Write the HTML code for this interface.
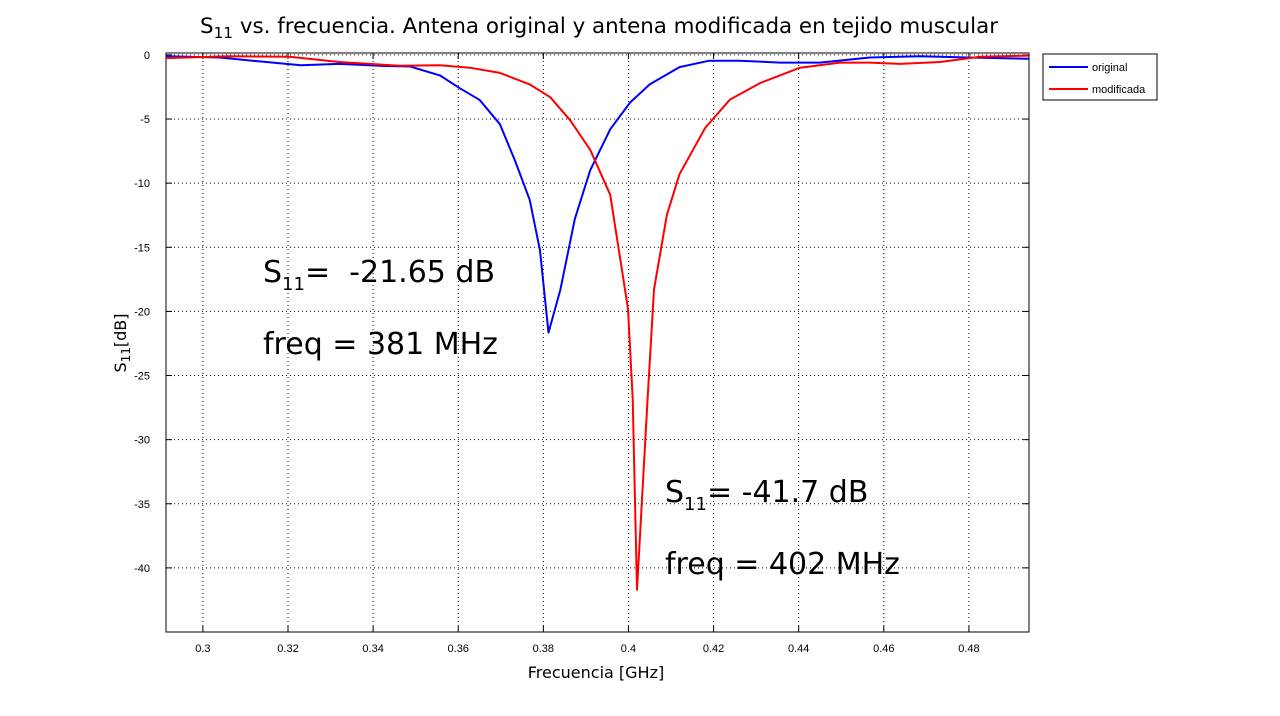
<!DOCTYPE html>
<html><head><meta charset="utf-8"><style>
body{margin:0;background:#fff;width:1280px;height:711px;overflow:hidden;font-family:"Liberation Sans",sans-serif}
</style></head><body>
<svg id="chart" width="1280" height="711" xmlns="http://www.w3.org/2000/svg" font-family="Liberation Sans, sans-serif">
<text x="599" y="33" font-size="21" text-anchor="middle" font-family="DejaVu Sans, sans-serif" textLength="798" lengthAdjust="spacingAndGlyphs">S<tspan font-size="15" dy="5">11</tspan><tspan dy="-5"> vs. frecuencia. Antena original y antena modificada en tejido muscular</tspan></text>
<g id="grid"></g>
<g id="ticks"></g>
<rect x="166" y="53" width="863" height="579" fill="none" stroke="#000" stroke-width="1"/>
<g id="series"></g>
<text x="596" y="678" font-size="16" text-anchor="middle" font-family="DejaVu Sans, sans-serif">Frecuencia [GHz]</text>
<text transform="translate(126,343) rotate(-90)" font-size="16" text-anchor="middle" font-family="DejaVu Sans, sans-serif">S<tspan font-size="12" dy="4">11</tspan><tspan dy="-4">[dB]</tspan></text>
<g font-family="DejaVu Sans, sans-serif" font-size="30">
<text x="263" y="282">S<tspan font-size="18" dy="8">11</tspan><tspan dy="-8" xml:space="preserve">=  -21.65 dB</tspan></text>
<text x="263" y="354">freq = 381 MHz</text>
<text x="665" y="502">S<tspan font-size="18" dy="8">11</tspan><tspan dy="-8">= -41.7 dB</tspan></text>
<text x="665" y="574">freq = 402 MHz</text>
</g>
<g>
<rect x="1043" y="54" width="114" height="46" fill="#fff" stroke="#000"/>
<line x1="1049" y1="67" x2="1088" y2="67" stroke="#00f" stroke-width="2"/>
<text x="1092" y="71" font-size="11">original</text>
<line x1="1049" y1="89" x2="1088" y2="89" stroke="#f00" stroke-width="2"/>
<text x="1092" y="93" font-size="11">modificada</text>
</g>
</svg>
<script>
const xTicks=[0.3,0.32,0.34,0.36,0.38,0.4,0.42,0.44,0.46,0.48];
const xTickLabels=["0.3","0.32","0.34","0.36","0.38","0.4","0.42","0.44","0.46","0.48"];
const yTicks=[0,-5,-10,-15,-20,-25,-30,-35,-40];
const yTickLabels=["0","-5","-10","-15","-20","-25","-30","-35","-40"];
const freqOriginal=[0.2913,0.304,0.313,0.323,0.332,0.3416,0.3487,0.3557,0.3604,0.365,0.3698,0.3733,0.3768,0.3792,0.3812,0.384,0.3874,0.391,0.3957,0.4004,0.405,0.412,0.419,0.426,0.4356,0.445,0.4567,0.4685,0.48,0.494];
const s11Original=[-0.1,-0.2,-0.5,-0.8,-0.7,-0.85,-0.9,-1.6,-2.6,-3.5,-5.4,-8.2,-11.3,-15.2,-21.65,-18.3,-12.8,-9,-5.8,-3.7,-2.3,-0.95,-0.45,-0.45,-0.6,-0.6,-0.2,-0.1,-0.2,-0.3];
const freqModified=[0.2913,0.306,0.3204,0.332,0.3463,0.3557,0.3627,0.3698,0.3768,0.3816,0.3863,0.391,0.3957,0.3999,0.401,0.402,0.4045,0.406,0.409,0.412,0.418,0.4238,0.4309,0.4403,0.4497,0.4567,0.4638,0.4732,0.4826,0.494];
const s11Modified=[-0.25,-0.1,-0.15,-0.55,-0.85,-0.8,-1,-1.4,-2.3,-3.3,-5.1,-7.4,-10.9,-19.8,-26.8,-41.7,-26.8,-18.3,-12.5,-9.3,-5.7,-3.5,-2.2,-1,-0.6,-0.6,-0.7,-0.55,-0.15,-0.05];
const NS="http://www.w3.org/2000/svg";
const X0=166,X1=1029,Y0=53,Y1=632,XMIN=0.29133,XMAX=0.49412,YMIN=-45,YMAX=0.15;
function sx(v){return X0+(v-XMIN)/(XMAX-XMIN)*(X1-X0);}
function sy(v){return Y0+(YMAX-v)/(YMAX-YMIN)*(Y1-Y0);}
function mk(t,a,p){const e=document.createElementNS(NS,t);for(const k in a)e.setAttribute(k,a[k]);p.appendChild(e);return e;}
const grid=document.getElementById('grid'),ticks=document.getElementById('ticks'),series=document.getElementById('series');
xTicks.forEach((v,i)=>{const x=sx(v);
 const g=mk('line',{x1:x,y1:Y0,x2:x,y2:Y1,stroke:'#000','stroke-width':1,'stroke-dasharray':'1,3'},grid);
 
 
 mk('line',{x1:x,y1:Y1,x2:x,y2:Y1-6,stroke:'#000'},ticks);
 mk('line',{x1:x,y1:Y0,x2:x,y2:Y0+6,stroke:'#000'},ticks);
 const t=mk('text',{x:x,y:652,'font-size':11,'text-anchor':'middle'},ticks);t.textContent=xTickLabels[i];
 
 
});
yTicks.forEach((v,i)=>{const y=sy(v);
 const g=mk('line',{x1:X0,y1:y,x2:X1,y2:y,stroke:'#000','stroke-width':1,'stroke-dasharray':'1,3'},grid);
 
 
 mk('line',{x1:X0,y1:y,x2:X0+6,y2:y,stroke:'#000'},ticks);
 mk('line',{x1:X1,y1:y,x2:X1-6,y2:y,stroke:'#000'},ticks);
 const t=mk('text',{x:150,y:y+4,'font-size':11,'text-anchor':'end'},ticks);t.textContent=yTickLabels[i];
 
 
});
function line(fx,fy,col,name){
 const d=fx.map((f,i)=>(i?'L':'M')+sx(f).toFixed(1)+','+sy(fy[i]).toFixed(1)).join(' ');
 const p=mk('path',{d:d,fill:'none',stroke:col,'stroke-width':2,'stroke-linejoin':'round'},series);
 
 
}
line(freqOriginal,s11Original,'#00f','series-original');
line(freqModified,s11Modified,'#f00','series-modificada');
</script>
</body></html>
